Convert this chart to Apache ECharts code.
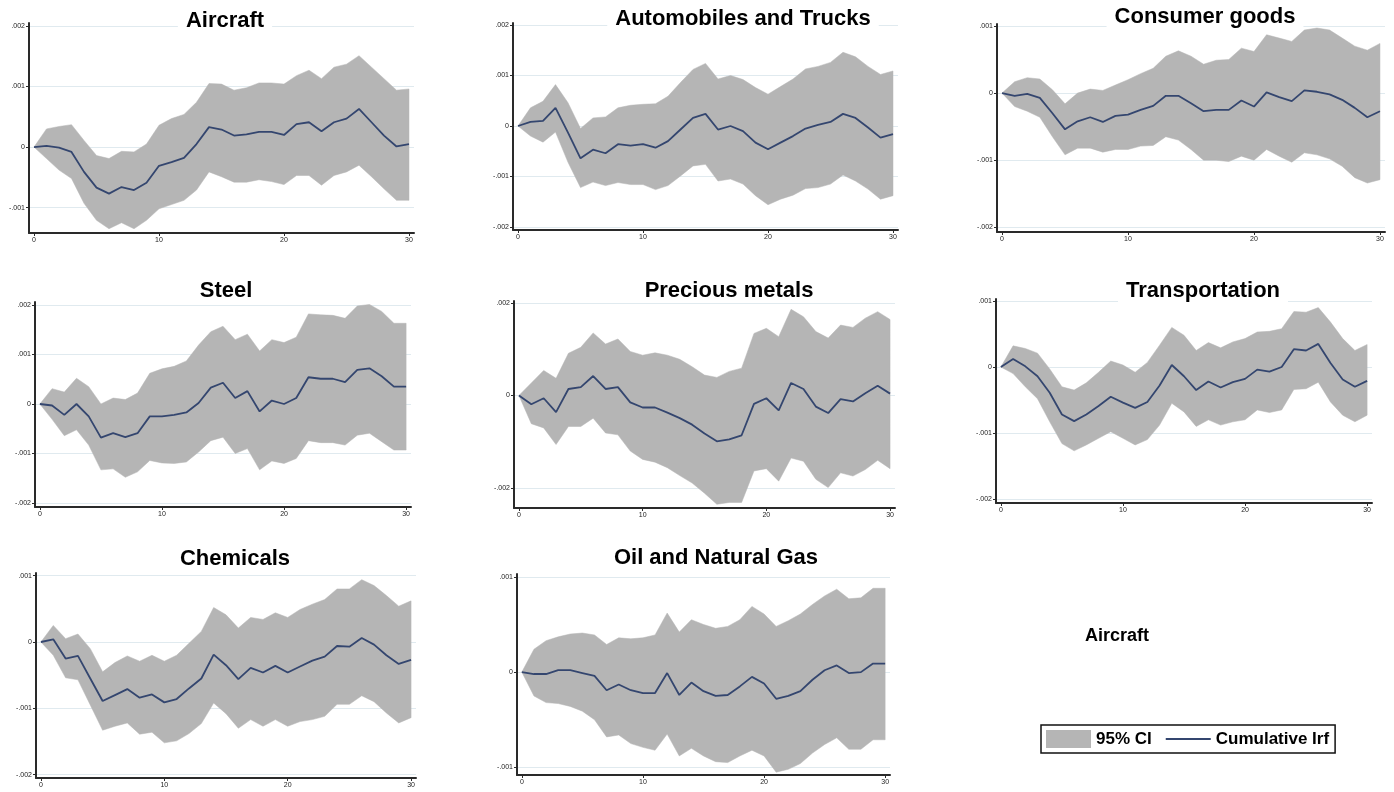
<!DOCTYPE html>
<html><head><meta charset="utf-8">
<script src="https://cdn.jsdelivr.net/npm/echarts@6/dist/echarts.min.js"></script>
<style>html,body{margin:0;padding:0;background:#fff}#c{width:1394px;height:792px}</style>
</head><body><div id="c"></div>
<script>
// horizon steps
const steps = [0,1,2,3,4,5,6,7,8,9,10,11,12,13,14,15,16,17,18,19,20,21,22,23,24,25,26,27,28,29,30];
const xTicks = [0,10,20,30];
// all values below are in thousandths (x 0.001)
const SCALE = 0.001;

const aircraftIrf = [0,0.02,-0.01,-0.08,-0.41,-0.67,-0.77,-0.66,-0.71,-0.59,-0.31,-0.25,-0.18,0.05,0.33,0.29,0.19,0.21,0.25,0.25,0.20,0.38,0.41,0.26,0.41,0.47,0.63,0.41,0.19,0.01,0.05];
const aircraftHi  = [0,0.30,0.34,0.37,0.11,-0.14,-0.19,-0.07,-0.08,0.05,0.36,0.47,0.54,0.74,1.05,1.04,0.94,0.98,1.06,1.06,1.04,1.18,1.27,1.13,1.32,1.37,1.51,1.32,1.13,0.94,0.96];
const aircraftLo  = [0,-0.19,-0.38,-0.52,-0.93,-1.21,-1.35,-1.25,-1.35,-1.21,-1.02,-0.95,-0.88,-0.71,-0.41,-0.49,-0.58,-0.58,-0.54,-0.57,-0.62,-0.47,-0.47,-0.63,-0.47,-0.41,-0.30,-0.49,-0.69,-0.88,-0.88];
const aircraftTicks = [-1,0,1,2];

const autoIrf = [0,0.08,0.10,0.36,-0.13,-0.64,-0.47,-0.54,-0.36,-0.39,-0.36,-0.43,-0.30,-0.07,0.16,0.24,-0.07,0,-0.10,-0.33,-0.46,-0.33,-0.20,-0.05,0.02,0.08,0.24,0.16,-0.03,-0.23,-0.16];
const autoHi  = [0,0.36,0.49,0.82,0.46,-0.05,0.16,0.18,0.36,0.41,0.43,0.44,0.59,0.86,1.12,1.24,0.93,1.00,0.92,0.76,0.63,0.78,0.93,1.13,1.18,1.26,1.46,1.37,1.18,1.02,1.09];
const autoLo  = [0,-0.20,-0.32,-0.12,-0.72,-1.22,-1.11,-1.18,-1.12,-1.16,-1.16,-1.26,-1.18,-0.99,-0.79,-0.76,-1.09,-1.05,-1.15,-1.38,-1.56,-1.45,-1.37,-1.24,-1.22,-1.15,-0.97,-1.09,-1.25,-1.45,-1.38];
const autoTicks = [-2,-1,0,1,2];

const consumerIrf = [0,-0.04,-0.01,-0.07,-0.30,-0.54,-0.42,-0.36,-0.43,-0.34,-0.32,-0.25,-0.19,-0.04,-0.04,-0.15,-0.27,-0.25,-0.25,-0.11,-0.20,0.01,-0.06,-0.12,0.04,0.02,-0.02,-0.10,-0.22,-0.36,-0.27];
const consumerHi  = [0,0.17,0.23,0.21,0.05,-0.16,0,0.06,0.04,0.12,0.20,0.29,0.37,0.55,0.63,0.55,0.43,0.49,0.50,0.67,0.62,0.87,0.82,0.77,0.94,0.97,0.94,0.82,0.70,0.64,0.74];
const consumerLo  = [0,-0.20,-0.27,-0.36,-0.65,-0.92,-0.82,-0.82,-0.88,-0.84,-0.84,-0.79,-0.78,-0.65,-0.70,-0.84,-1.00,-1.00,-1.02,-0.94,-1.00,-0.84,-0.94,-1.03,-0.89,-0.92,-0.98,-1.09,-1.26,-1.34,-1.29];
const consumerTicks = [-2,-1,0,1];

const steelIrf = [0,-0.03,-0.22,0,-0.25,-0.68,-0.59,-0.67,-0.59,-0.25,-0.25,-0.22,-0.17,0.02,0.33,0.43,0.12,0.26,-0.15,0.07,0,0.12,0.54,0.51,0.51,0.44,0.69,0.72,0.56,0.35,0.35];
const steelHi  = [0,0.31,0.24,0.52,0.35,0,0.12,0.09,0.22,0.62,0.71,0.76,0.87,1.19,1.46,1.57,1.30,1.41,1.07,1.30,1.24,1.35,1.82,1.80,1.79,1.73,1.98,2.01,1.87,1.63,1.63];
const steelLo  = [0,-0.31,-0.64,-0.52,-0.83,-1.33,-1.31,-1.48,-1.37,-1.14,-1.19,-1.20,-1.17,-0.97,-0.74,-0.67,-1.00,-0.90,-1.33,-1.15,-1.20,-1.10,-0.74,-0.78,-0.78,-0.83,-0.63,-0.59,-0.76,-0.93,-0.93];
const steelTicks = [-2,-1,0,1,2];

const preciousIrf = [0,-0.19,-0.06,-0.36,0.14,0.18,0.42,0.14,0.18,-0.15,-0.26,-0.26,-0.37,-0.49,-0.63,-0.82,-0.99,-0.95,-0.86,-0.18,-0.06,-0.32,0.27,0.14,-0.24,-0.38,-0.08,-0.13,0.05,0.21,0.04];
const preciousHi  = [0,0.27,0.54,0.37,0.91,1.04,1.35,1.11,1.22,0.95,0.87,0.92,0.87,0.78,0.62,0.44,0.39,0.52,0.59,1.34,1.45,1.27,1.86,1.70,1.38,1.24,1.52,1.47,1.67,1.81,1.64];
const preciousLo  = [0,-0.61,-0.70,-1.06,-0.67,-0.67,-0.49,-0.81,-0.85,-1.20,-1.38,-1.44,-1.56,-1.73,-1.89,-2.11,-2.35,-2.31,-2.31,-1.63,-1.58,-1.85,-1.35,-1.42,-1.81,-1.99,-1.67,-1.74,-1.60,-1.40,-1.58];
const preciousTicks = [-2,0,2];

const transportIrf = [0,0.12,0.01,-0.14,-0.39,-0.72,-0.82,-0.72,-0.59,-0.45,-0.54,-0.62,-0.53,-0.28,0.03,-0.14,-0.35,-0.22,-0.31,-0.23,-0.18,-0.04,-0.07,0,0.27,0.25,0.35,0.06,-0.19,-0.30,-0.21];
const transportHi  = [0,0.32,0.28,0.21,-0.03,-0.30,-0.35,-0.24,-0.08,0.09,0.03,-0.08,0.07,0.33,0.60,0.48,0.25,0.37,0.29,0.38,0.43,0.53,0.54,0.58,0.84,0.83,0.90,0.68,0.43,0.25,0.34];
const transportLo  = [0,-0.10,-0.30,-0.48,-0.83,-1.16,-1.27,-1.18,-1.08,-0.98,-1.08,-1.18,-1.10,-0.88,-0.55,-0.68,-0.90,-0.80,-0.88,-0.83,-0.80,-0.65,-0.69,-0.65,-0.34,-0.33,-0.23,-0.53,-0.73,-0.83,-0.73];
const transportTicks = [-2,-1,0,1];

const chemIrf = [0,0.04,-0.25,-0.21,-0.55,-0.89,-0.80,-0.71,-0.84,-0.79,-0.91,-0.86,-0.70,-0.55,-0.19,-0.35,-0.56,-0.39,-0.46,-0.36,-0.46,-0.37,-0.28,-0.22,-0.06,-0.07,0.06,-0.04,-0.20,-0.33,-0.27];
const chemHi  = [0,0.25,0.05,0.12,-0.10,-0.45,-0.31,-0.21,-0.29,-0.20,-0.29,-0.20,-0.02,0.16,0.52,0.41,0.21,0.37,0.34,0.44,0.37,0.49,0.57,0.64,0.80,0.80,0.94,0.85,0.70,0.54,0.62];
const chemLo  = [0,-0.20,-0.54,-0.57,-0.95,-1.33,-1.27,-1.22,-1.39,-1.36,-1.52,-1.49,-1.38,-1.23,-0.92,-1.08,-1.30,-1.17,-1.27,-1.17,-1.27,-1.20,-1.17,-1.12,-0.94,-0.94,-0.81,-0.90,-1.07,-1.22,-1.14];
const chemTicks = [-2,-1,0,1];

const oilIrf = [0,-0.02,-0.02,0.02,0.02,-0.01,-0.04,-0.19,-0.13,-0.19,-0.22,-0.22,-0.01,-0.24,-0.11,-0.20,-0.25,-0.24,-0.15,-0.05,-0.12,-0.28,-0.25,-0.20,-0.08,0.02,0.07,-0.01,0,0.09,0.09];
const oilHi  = [0,0.24,0.33,0.37,0.40,0.41,0.39,0.29,0.36,0.35,0.36,0.39,0.62,0.42,0.55,0.50,0.46,0.48,0.55,0.69,0.61,0.48,0.54,0.61,0.71,0.80,0.87,0.77,0.78,0.88,0.88];
const oilLo  = [0,-0.25,-0.32,-0.33,-0.36,-0.41,-0.50,-0.68,-0.66,-0.75,-0.79,-0.82,-0.65,-0.88,-0.80,-0.88,-0.94,-0.95,-0.88,-0.82,-0.88,-1.05,-1.02,-0.96,-0.85,-0.76,-0.69,-0.81,-0.81,-0.71,-0.71];
const oilTicks = [-1,0,1];

const panelTitles = ['Aircraft','Automobiles and Trucks','Consumer goods','Steel','Precious metals','Transportation','Chemicals','Oil and Natural Gas'];
const legendNames = ['95% CI','Cumulative Irf'];
const sideNote = 'Aircraft';

// layout (positions in px, axis ranges in thousandths)
const panels = [
  {irf:aircraftIrf, lo:aircraftLo, hi:aircraftHi, ticks:aircraftTicks, grid:{left:29,top:23,width:385,height:210}, yMin:-1.42, yMax:2.05, tx:217, ty:10},
  {irf:autoIrf, lo:autoLo, hi:autoHi, ticks:autoTicks, grid:{left:513,top:23,width:385,height:207}, yMin:-2.06, yMax:2.04, tx:735, ty:8},
  {irf:consumerIrf, lo:consumerLo, hi:consumerHi, ticks:consumerTicks, grid:{left:997,top:24,width:388,height:208}, yMin:-2.07, yMax:1.03, tx:1197, ty:6},
  {irf:steelIrf, lo:steelLo, hi:steelHi, ticks:steelTicks, grid:{left:35,top:302,width:376,height:205}, yMin:-2.08, yMax:2.06, tx:218, ty:280},
  {irf:preciousIrf, lo:preciousLo, hi:preciousHi, ticks:preciousTicks, grid:{left:514,top:301,width:381,height:207}, yMin:-2.43, yMax:2.04, tx:721, ty:280},
  {irf:transportIrf, lo:transportLo, hi:transportHi, ticks:transportTicks, grid:{left:996,top:299,width:376,height:204}, yMin:-2.06, yMax:1.03, tx:1195, ty:280},
  {irf:chemIrf, lo:chemLo, hi:chemHi, ticks:chemTicks, grid:{left:36,top:573,width:380,height:205}, yMin:-2.05, yMax:1.04, tx:227, ty:548},
  {irf:oilIrf, lo:oilLo, hi:oilHi, ticks:oilTicks, grid:{left:517,top:574,width:373,height:201}, yMin:-1.08, yMax:1.03, tx:708, ty:547}
];

const FONT = 'Liberation Sans, Arial, sans-serif';
const BAND = '#b5b5b5';
const LINE = '#34466f';
const AXIS = '#2a2a2a';

function fmtY(v){
  const r = Math.round(v*1e6)/1e6;
  if (Math.abs(r) < 1e-12) return '0';
  return r.toString().replace('0.', '.');
}

function bandRenderer(rows){
  return function(params, api){
    if (params.dataIndex !== 0) return null;
    const upper = rows.map(r => api.coord([r[0], r[2]]));
    const lower = rows.map(r => api.coord([r[0], r[1]])).reverse();
    return {
      type:'polygon',
      shape:{points: upper.concat(lower)},
      style:{fill: BAND, stroke: BAND, lineWidth: 0.5}
    };
  };
}

const grids = [], xAxes = [], yAxes = [], series = [], titles = [];
panels.forEach((p, k) => {
  grids.push(Object.assign({outerBoundsMode:'none', containLabel:false}, p.grid));
  xAxes.push({
    type:'value', gridIndex:k, min:-0.4, max:30.4,
    axisLine:{show:true, onZero:false, lineStyle:{color:AXIS, width:2}},
    axisTick:{show:true, length:3, customValues:xTicks, lineStyle:{color:AXIS}},
    axisLabel:{show:true, customValues:xTicks, fontSize:7, color:'#222', margin:4, fontFamily:FONT},
    splitLine:{show:false}
  });
  const yt = p.ticks.map(v => v*SCALE);
  yAxes.push({
    type:'value', gridIndex:k, min:p.yMin*SCALE, max:p.yMax*SCALE,
    axisLine:{show:true, onZero:false, lineStyle:{color:AXIS, width:2}},
    axisTick:{show:true, length:3, customValues:yt, lineStyle:{color:AXIS}},
    axisLabel:{show:true, customValues:yt, fontSize:7, color:'#222', margin:4, fontFamily:FONT, formatter:fmtY},
    splitLine:{show:true, lineStyle:{color:'#e0eaef', width:1}}
  });
  const rows = steps.map((s,i) => [s, p.lo[i]*SCALE, p.hi[i]*SCALE]);
  series.push({
    type:'custom', name:legendNames[0], xAxisIndex:k, yAxisIndex:k,
    silent:true, z:1, clip:false,
    itemStyle:{color:BAND},
    encode:{x:0, y:[1,2]},
    renderItem: bandRenderer(rows),
    data: rows
  });
  series.push({
    type:'line', name:legendNames[1], xAxisIndex:k, yAxisIndex:k,
    symbol:'none', showSymbol:false, silent:true, z:3,
    itemStyle:{color:LINE},
    lineStyle:{color:LINE, width:1.8},
    data: steps.map((s,i) => [s, p.irf[i]*SCALE])
  });
  titles.push({
    text:panelTitles[k], left:p.tx, top:p.ty, textAlign:'center',
    padding:[0,8], backgroundColor:'#fff',
    textStyle:{fontFamily:FONT, fontWeight:'bold', fontSize:22, color:'#000'}
  });
});

const chart = echarts.init(document.getElementById('c'), null, {renderer:'canvas'});
chart.setOption({
  animation:false,
  backgroundColor:'#fff',
  title:titles,
  grid:grids, xAxis:xAxes, yAxis:yAxes, series:series,
  legend:{
    left:1041, top:725, orient:'horizontal', selectedMode:false,
    data:[{name:legendNames[0], icon:'rect'}, {name:legendNames[1], icon:'path://M0,0L40,0L40,1.6L0,1.6Z'}],
    itemWidth:45, itemHeight:18, itemGap:14,
    padding:[5,6,5,5], borderColor:'#111', borderWidth:1.5, backgroundColor:'#fff',
    textStyle:{fontFamily:FONT, fontWeight:'bold', fontSize:17, color:'#000'}
  },
  graphic:[{
    type:'text', left:1085, top:627,
    style:{text:sideNote, font:'bold 18px ' + FONT, fill:'#000'}
  }]
});
</script>
</body></html>
